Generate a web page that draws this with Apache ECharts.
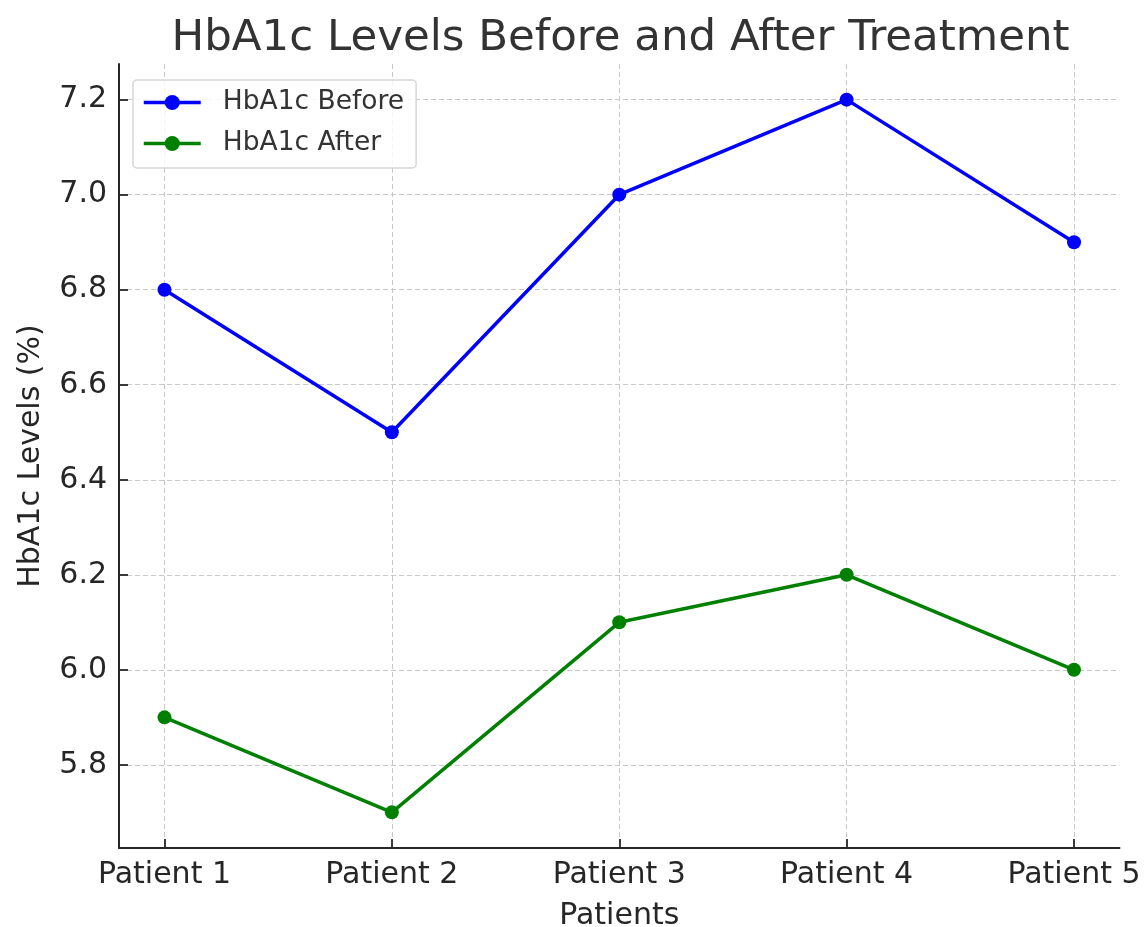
<!DOCTYPE html>
<html>
<head>
<meta charset="utf-8">
<title>HbA1c Levels Before and After Treatment</title>
<script src="https://cdn.jsdelivr.net/npm/echarts@6/dist/echarts.min.js"></script>
<style>
  html, body { margin: 0; padding: 0; background: #fff; }
  #chart { width: 1145px; height: 927px; }
</style>
</head>
<body>
<div id="chart"></div>
<script>
// data
var patients = ['Patient 1', 'Patient 2', 'Patient 3', 'Patient 4', 'Patient 5'];
var hba1cBefore = [6.8, 6.5, 7.0, 7.2, 6.9];
var hba1cAfter = [5.9, 5.7, 6.1, 6.2, 6.0];
var yTicks = [5.8, 6.0, 6.2, 6.4, 6.6, 6.8, 7.0, 7.2];
var xTicks = [0, 1, 2, 3, 4];

function toPairs(values) {
  return values.map(function (v, i) { return [i, v]; });
}

var font = 'DejaVu Sans';
var chart = echarts.init(document.getElementById('chart'));

var option = {
  animation: false,
  title: {
    text: 'HbA1c Levels Before and After Treatment',
    left: 615.5,
    textAlign: 'center',
    top: 12,
    textStyle: { fontFamily: font, fontSize: 43.5, fontWeight: 'normal', color: '#333' }
  },
  legend: {
    orient: 'vertical',
    left: 133,
    top: 80,
    padding: [9, 12, 11, 9],
    itemWidth: 57,
    itemHeight: 19,
    itemGap: 14,
    backgroundColor: 'rgba(255,255,255,0.8)',
    borderColor: '#d6d6d6',
    borderWidth: 1.5,
    borderRadius: 4,
    lineStyle: { width: 3.5 },
    textStyle: { fontFamily: font, fontSize: 26.5, color: '#333', padding: [0, 0, 0, 17] },
    data: ['HbA1c Before', 'HbA1c After']
  },
  grid: { left: 119, right: 25.5, top: 64, bottom: 79, outerBoundsMode: 'none' },
  xAxis: {
    type: 'value',
    min: -0.2,
    max: 4.2,
    name: 'Patients',
    nameLocation: 'middle',
    nameGap: 53,
    nameTextStyle: { fontFamily: font, fontSize: 30, color: '#262626' },
    axisLine: { show: true, onZero: false, lineStyle: { color: '#262626', width: 2 } },
    axisTick: { show: true, inside: true, length: 9, customValues: xTicks, lineStyle: { color: '#262626', width: 1.8 } },
    axisLabel: {
      customValues: xTicks,
      margin: 12,
      fontFamily: font, fontSize: 30, color: '#262626',
      formatter: function (v) { return patients[Math.round(v)]; }
    },
    splitLine: { show: true, lineStyle: { color: '#c8c8c8', width: 1, type: [5, 3] } }
  },
  yAxis: {
    type: 'value',
    min: 5.625,
    max: 7.275,
    name: 'HbA1c Levels (%)',
    nameLocation: 'middle',
    nameGap: 73,
    nameTextStyle: { fontFamily: font, fontSize: 30, color: '#262626' },
    axisLine: { show: true, onZero: false, lineStyle: { color: '#262626', width: 2 } },
    axisTick: { show: true, inside: true, length: 9, customValues: yTicks, lineStyle: { color: '#262626', width: 1.8 } },
    axisLabel: {
      customValues: yTicks,
      margin: 12,
      fontFamily: font, fontSize: 30, color: '#262626',
      formatter: function (v) { return v.toFixed(1); }
    },
    splitLine: { show: true, lineStyle: { color: '#c8c8c8', width: 1, type: [5, 3] } }
  },
  series: [
    {
      name: 'HbA1c Before',
      type: 'line',
      data: toPairs(hba1cBefore),
      symbol: 'circle',
      symbolSize: 14,
      color: '#0000ff',
      lineStyle: { color: '#0000ff', width: 3.5 },
      itemStyle: { color: '#0000ff' }
    },
    {
      name: 'HbA1c After',
      type: 'line',
      data: toPairs(hba1cAfter),
      symbol: 'circle',
      symbolSize: 14,
      color: '#008000',
      lineStyle: { color: '#008000', width: 3.5 },
      itemStyle: { color: '#008000' }
    }
  ]
};

chart.setOption(option);
</script>
</body>
</html>
